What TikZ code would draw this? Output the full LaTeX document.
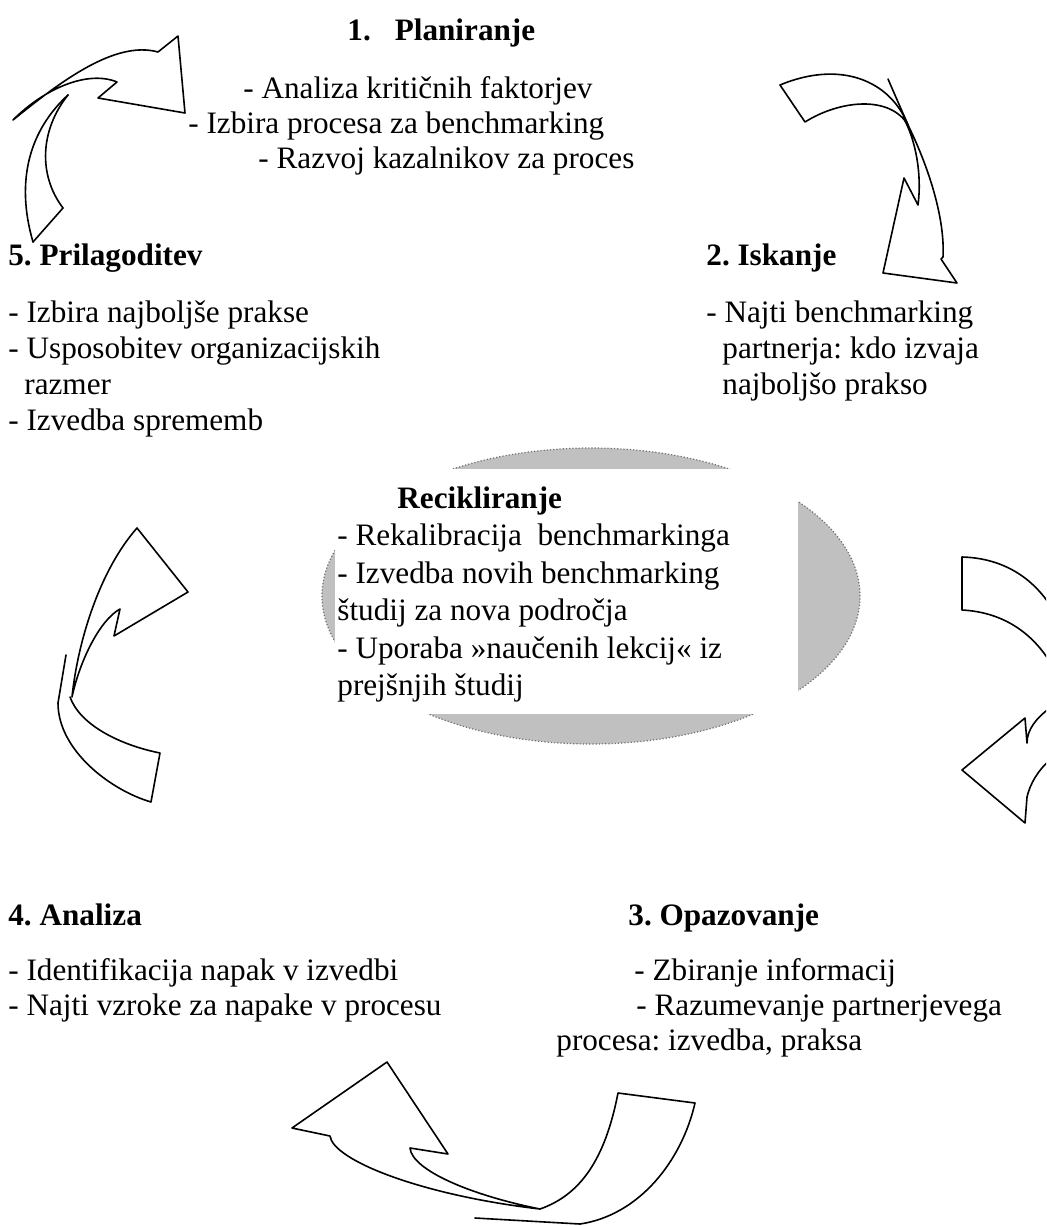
\documentclass[tikz,border=0pt]{standalone}
\usepackage{fontspec}
\setmainfont{Liberation Serif}
\usetikzlibrary{shapes.geometric}
\definecolor{ellgray}{HTML}{C0C0C0}
\definecolor{rimgray}{HTML}{707070}
\tikzset{
  txt/.style={anchor=base west, inner sep=0pt, font=\fontsize{15.6}{18}\selectfont\frenchspacing},
  hdr/.style={anchor=base west, inner sep=0pt, font=\fontsize{15.6}{18}\selectfont\bfseries\frenchspacing},
  ribbon/.style={draw=black, line width=0.8pt, line join=round, line cap=round},
}
\begin{document}
\begin{tikzpicture}[x=0.5pt,y=-0.5pt]
\useasboundingbox (0,0) rectangle (1046,1226);
\fill[white] (0,0) rectangle (1046,1226);

% central recycling ellipse with its white text panel
\node[ellipse, draw=rimgray, densely dotted, line width=0.6pt, fill=ellgray,
      minimum width=269pt, minimum height=148pt, inner sep=0pt] (cycle) at (591,596) {};
\node[fill=white, minimum width=231.5pt, minimum height=122.5pt, inner sep=0pt] (core) at (566.5,591.5) {};

\node[hdr] (rtitle) at (397,508) {Recikliranje};
\node[txt] (r1) at (337,545) {- Rekalibracija\ \ benchmarkinga};
\node[txt] (r2) at (337,583) {- Izvedba novih benchmarking};
\node[txt] (r3) at (337,620) {študij za nova področja};
\node[txt] (r4) at (337,658) {- Uporaba »naučenih lekcij« iz};
\node[txt] (r5) at (337,695) {prejšnjih študij};

% 1. planning
\node[hdr] (ptitle) at (347,40) {1.\hspace{12pt}Planiranje};
\node[txt] (p1) at (243,98) {- Analiza kritičnih faktorjev};
\node[txt] (p2) at (188,133) {- Izbira procesa za benchmarking};
\node[txt] (p3) at (258,168) {- Razvoj kazalnikov za proces};

% 2. search
\node[hdr] (stitle) at (706,265) {2. Iskanje};
\node[txt] (s1) at (706,322) {- Najti benchmarking};
\node[txt] (s2) at (722,358) {partnerja: kdo izvaja};
\node[txt] (s3) at (722,394) {najboljšo prakso};

% 5. adaptation
\node[hdr] (atitle) at (8,265) {5. Prilagoditev};
\node[txt] (a1) at (8,322) {- Izbira najboljše prakse};
\node[txt] (a2) at (8,358) {- Usposobitev organizacijskih};
\node[txt] (a3) at (24,394) {razmer};
\node[txt] (a4) at (8,430) {- Izvedba sprememb};

% 4. analysis
\node[hdr] (ntitle) at (8,925) {4. Analiza};
\node[txt] (n1) at (8,980) {- Identifikacija napak v izvedbi};
\node[txt] (n2) at (8,1015) {- Najti vzroke za napake v procesu};

% 3. observation
\node[hdr] (otitle) at (628,925) {3. Opazovanje};
\node[txt] (o1) at (634,980) {- Zbiranje informacij};
\node[txt] (o2) at (636,1015) {- Razumevanje partnerjevega};
\node[txt] (o3) at (556,1050) {procesa: izvedba, praksa};

\begin{scope}
\clip (0,0) rectangle (1046,1226);

% top-left ribbon arrow (5 -> 1)
\draw[ribbon] (13,120) .. controls (60,82) and (115,40) .. (158,52)
  -- (178,36) -- (185,113) -- (98,98) -- (117,82)
  .. controls (88,70) and (45,88) .. (13,120);
\draw[ribbon] (33,242) .. controls (15,180) and (30,130) .. (68,95);
\draw[ribbon] (63,208) .. controls (38,175) and (40,130) .. (68,95);
\draw[ribbon] (33,242) -- (63,208);

% top-right ribbon arrow (1 -> 2)
\draw[ribbon] (780,85) .. controls (840,60) and (890,80) .. (908,125)
  .. controls (930,170) and (945,220) .. (943,257) -- (941,259) -- (957,283)
  -- (883,273) -- (904,178) -- (918,205)
  .. controls (922,175) and (916,140) .. (903,117);
\draw[ribbon] (780,85) -- (805,122)
  .. controls (840,100) and (890,95) .. (908,125);
\draw[ribbon] (888,79) -- (908,125);

% right ribbon arrow (2 -> 3), running past the edge
\draw[ribbon] (1050,605) .. controls (1030,575) and (1000,558) .. (962,557)
  -- (962,610) .. controls (1000,612) and (1030,630) .. (1050,662);
\draw[ribbon] (1050,708) .. controls (1036,718) and (1027,730) .. (1027,743)
  -- (1025,718) -- (962,770) -- (1025,823) -- (1027,797)
  .. controls (1030,784) and (1038,770) .. (1050,760);

% bottom ribbon arrow (3 -> 4)
\draw[ribbon] (540,1209) .. controls (470,1195) and (412,1170) .. (410,1148)
  -- (448,1154) -- (387,1062) -- (292,1128) -- (330,1136)
  .. controls (333,1160) and (420,1195) .. (540,1209);
\draw[ribbon] (540,1209) .. controls (580,1195) and (605,1160) .. (618,1093)
  -- (695,1103) .. controls (682,1160) and (640,1215) .. (580,1224) -- (475,1218);

% left ribbon arrow (4 -> 5)
\draw[ribbon] (72,697) .. controls (78,640) and (100,570) .. (137,528)
  -- (188,592) -- (114,636) -- (120,609)
  .. controls (100,620) and (80,660) .. (72,697);
\draw[ribbon] (66,655) -- (58,703) .. controls (58,750) and (110,790) .. (151,802)
  -- (160,753) .. controls (120,745) and (80,725) .. (70,697);
\end{scope}
\end{tikzpicture}
\end{document}
